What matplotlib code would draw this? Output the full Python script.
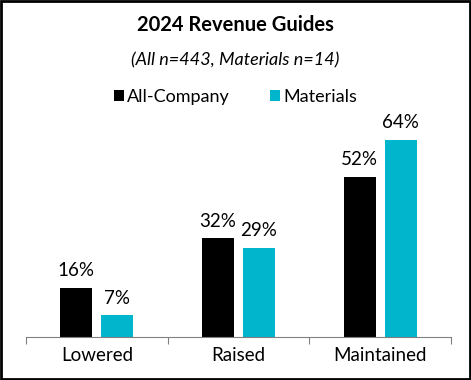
import matplotlib.pyplot as plt
import numpy as np
from matplotlib.patches import Rectangle

categories = ['Lowered', 'Raised', 'Maintained']
all_company = [16, 32, 52]
materials = [7, 29, 64]
series_names = ['All-Company', 'Materials']
colors = ['#000000', '#00B5CC']

plt.rcParams['font.family'] = ['Lato', 'DejaVu Sans']

fig = plt.figure(figsize=(4.71, 3.8), dpi=100)
ax = fig.add_axes([26 / 471, 43 / 380, 425 / 471, 216 / 380])

x = np.arange(len(categories))
w = 0.225
off = 0.145
b1 = ax.bar(x - off, all_company, w, color=colors[0], label=series_names[0])
b2 = ax.bar(x + off, materials, w, color=colors[1], label=series_names[1])

# value labels over each bar
for rects, vals in [(b1, all_company), (b2, materials)]:
    for r, v in zip(rects, vals):
        ax.annotate('{}%'.format(v), xy=(r.get_x() + r.get_width() / 2, v),
                    xytext=(0, 6), textcoords='offset points',
                    ha='center', va='bottom', fontsize=13.5)

ax.set_xlim(-0.5, 2.5)
ax.set_ylim(0, 70)
ax.set_yticks([])
for s in ['top', 'right', 'left']:
    ax.spines[s].set_visible(False)
ax.spines['bottom'].set_color('#808080')
ax.set_xticks([-0.5, 0.5, 1.5, 2.5], minor=False)
ax.set_xticklabels([])
ax.tick_params(axis='x', which='major', length=5, color='#808080', direction='out')
ax.set_xticks(x, minor=True)
ax.set_xticklabels(categories, minor=True, fontsize=13.5)
ax.tick_params(axis='x', which='minor', length=0, pad=7)

fig.text(0.5, 1 - 25 / 380, '2024 Revenue Guides', ha='center', va='center',
         fontsize=14.5, fontweight='bold')
fig.text(0.5, 1 - 60 / 380, '(All n=443, Materials n=14)', ha='center', va='center',
         fontsize=13, style='italic')
fig.legend(loc='center', bbox_to_anchor=(0.5, 1 - 97 / 380), ncol=2, frameon=False,
           fontsize=13, handlelength=0.55, handleheight=0.55, handletextpad=0.2,
           columnspacing=2.2)

fig.patches.append(Rectangle((0.002, 0.003), 0.996, 0.994, transform=fig.transFigure,
                             fill=False, edgecolor='black', linewidth=2))

fig.savefig('out.png', dpi=100)
